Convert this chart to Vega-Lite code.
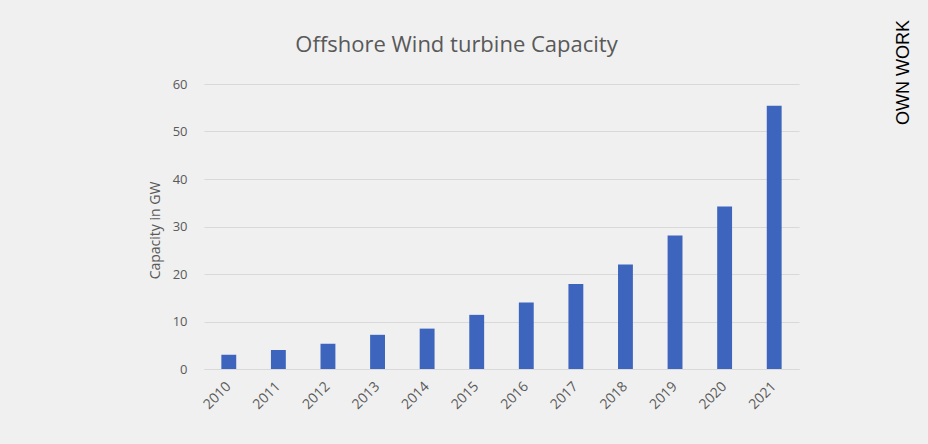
{
  "$schema": "https://vega.github.io/schema/vega-lite/v6.json",
  "width": 595,
  "height": 285,
  "autosize": {"type": "none"},
  "padding": {"left": 204, "top": 84, "right": 129, "bottom": 75},
  "background": "#f0f0f0",
  "config": {
    "view": {"stroke": null},
    "font": "Open Sans"
  },
  "title": {
    "text": "Offshore Wind turbine Capacity",
    "anchor": "middle",
    "frame": "group",
    "dx": -45,
    "offset": -59,
    "baseline": "bottom",
    "fontSize": 22,
    "fontWeight": "normal",
    "color": "#595959",
    "font": "Open Sans"
  },
  "data": {
    "values": [
      {"year": "2010", "capacity": 3.0},
      {"year": "2011", "capacity": 4.0},
      {"year": "2012", "capacity": 5.3},
      {"year": "2013", "capacity": 7.2},
      {"year": "2014", "capacity": 8.5},
      {"year": "2015", "capacity": 11.4},
      {"year": "2016", "capacity": 14.0},
      {"year": "2017", "capacity": 17.9},
      {"year": "2018", "capacity": 22.0},
      {"year": "2019", "capacity": 28.1},
      {"year": "2020", "capacity": 34.2},
      {"year": "2021", "capacity": 55.4}
    ]
  },
  "layer": [
    {
      "mark": {"type": "bar", "color": "#3d65bd"},
      "encoding": {
        "x": {
          "field": "year",
          "type": "ordinal",
          "scale": {"paddingInner": 0.7, "paddingOuter": 0.35},
          "axis": {
            "title": null,
            "labelAngle": -45,
            "labelAlign": "right",
            "labelBaseline": "middle",
            "labelPadding": 15,
            "labelFontSize": 14,
            "labelColor": "#595959",
            "ticks": false,
            "domain": true,
            "domainColor": "#d9d9d9",
            "grid": false
          }
        },
        "y": {
          "field": "capacity",
          "type": "quantitative",
          "scale": {"domain": [0, 60]},
          "axis": {
            "values": [0, 10, 20, 30, 40, 50, 60],
            "title": "Capacity in GW",
            "titleFontSize": 14,
            "titleFontWeight": "normal",
            "titleColor": "#595959",
            "titleX": -49,
            "titleY": 146,
            "titleAlign": "center",
            "titleBaseline": "middle",
            "titleAngle": 270,
            "labelFontSize": 13,
            "labelColor": "#595959",
            "labelPadding": 17,
            "ticks": false,
            "domain": false,
            "grid": true,
            "gridColor": "#d9d9d9",
            "gridWidth": 1
          }
        }
      }
    },
    {
      "mark": {"type": "bar", "opacity": 0},
      "encoding": {
        "x": {"field": "year", "type": "ordinal"},
        "y": {
          "field": "capacity",
          "type": "quantitative",
          "scale": {"domain": [0, 60]},
          "axis": {
            "orient": "right",
            "title": "OWN WORK",
            "titleFont": "Liberation Sans",
            "titleFontSize": 18,
            "titleFontWeight": "normal",
            "titleColor": "#000000",
            "titleAngle": 270,
            "titleX": 104,
            "titleY": -12,
            "titleAlign": "center",
            "titleBaseline": "middle",
            "labels": false,
            "ticks": false,
            "domain": false,
            "grid": false
          }
        }
      }
    }
  ],
  "resolve": {"scale": {"y": "independent"}}
}
